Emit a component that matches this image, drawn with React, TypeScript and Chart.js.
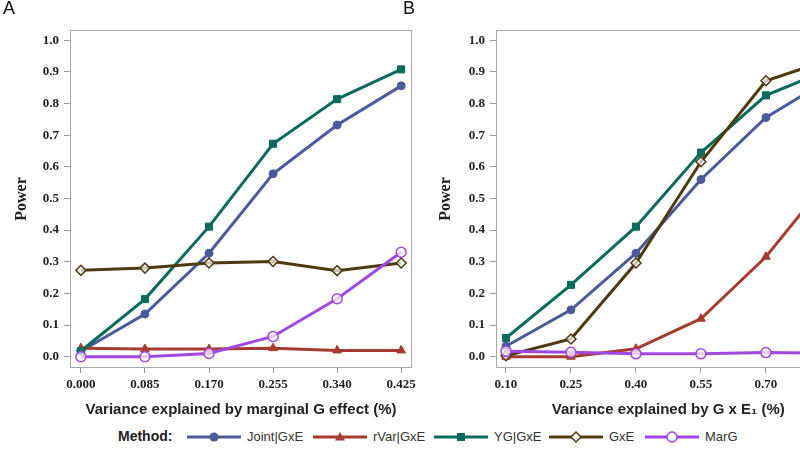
import React, { useEffect, useRef } from "react";
import { Chart, registerables } from "chart.js";

Chart.register(...registerables);

// ---------- data ----------
const methods = ["Joint|GxE", "rVar|GxE", "YG|GxE", "GxE", "MarG"];

const xA = [0, 0.085, 0.17, 0.255, 0.34, 0.425];
const xALabels = ["0.000", "0.085", "0.170", "0.255", "0.340", "0.425"];
const xB = [0.1, 0.25, 0.4, 0.55, 0.7, 0.85];
const xBLabels = ["0.10", "0.25", "0.40", "0.55", "0.70", "0.85"];
const yTicks = [0, 0.1, 0.2, 0.3, 0.4, 0.5, 0.6, 0.7, 0.8, 0.9, 1.0];
const yTickLabels = ["0.0", "0.1", "0.2", "0.3", "0.4", "0.5", "0.6", "0.7", "0.8", "0.9", "1.0"];

const jointA = [0.017, 0.135, 0.327, 0.578, 0.732, 0.856];
const rvarA = [0.027, 0.024, 0.024, 0.027, 0.02, 0.02];
const ygA = [0.018, 0.182, 0.411, 0.673, 0.814, 0.908];
const gxeA = [0.273, 0.28, 0.296, 0.301, 0.272, 0.296];
const margA = [0.0, 0.0, 0.01, 0.064, 0.183, 0.33];

const jointB = [0.033, 0.148, 0.327, 0.56, 0.756, 0.88];
const rvarB = [0.0, 0.0, 0.025, 0.12, 0.316, 0.57];
const ygB = [0.059, 0.227, 0.411, 0.645, 0.826, 0.91];
const gxeB = [0.003, 0.056, 0.296, 0.616, 0.872, 0.94];
const margB = [0.017, 0.014, 0.009, 0.009, 0.013, 0.011];

const titleA = "Variance explained by marginal G effect (%)";
const titleB = "Variance explained by G x E\u2081 (%)";

// ---------- styles ----------
const COLORS = ["#4B5A98", "#A63C30", "#0B6A5C", "#4E3A10", "#A048E0"];
const STYLES = [
  { pointStyle: "circle", radius: 4, fill: true },
  { pointStyle: "triangle", radius: 5, fill: true },
  { pointStyle: "rect", radius: 5, fill: true },
  { pointStyle: "rectRot", radius: 5, fill: false },
  { pointStyle: "circle", radius: 5, fill: false },
];

const serifBold = { family: "'Liberation Serif', 'Times New Roman', serif", size: 13, weight: "bold" as const };
const serifBoldTitle = { family: "'Liberation Serif', 'Times New Roman', serif", size: 16, weight: "bold" as const };
const sansBold = { family: "'Liberation Sans', Arial, sans-serif", size: 15, weight: "bold" as const };

const framePlugin = {
  id: "frame",
  beforeDatasetsDraw(chart: any) {
    const { ctx, chartArea: a } = chart;
    ctx.save();
    ctx.strokeStyle = "#a8a8a8";
    ctx.lineWidth = 1;
    ctx.strokeRect(a.left + 0.5, a.top + 0.5, a.right - a.left - 1, a.bottom - a.top - 1);
    ctx.restore();
  },
};

function closestLabel(v: number, vals: number[], labels: string[]) {
  let best = -1;
  let bd = Infinity;
  vals.forEach((t, i) => {
    const d = Math.abs(t - v);
    if (d < bd) {
      bd = d;
      best = i;
    }
  });
  return bd < 1e-6 ? labels[best] : "";
}

type PanelCfg = {
  xs: number[];
  xLabels: string[];
  series: number[][];
  xMin: number;
  xMax: number;
  xTitle: string;
  yAxisWidth: number;
  yTitlePad: number;
};

function makeChart(canvas: HTMLCanvasElement, cfg: PanelCfg) {
  const datasets = cfg.series.map((vals, i) => ({
    label: methods[i],
    data: cfg.xs.map((x, j) => ({ x, y: vals[j] })),
    borderColor: COLORS[i],
    backgroundColor: COLORS[i],
    borderWidth: 3,
    pointStyle: STYLES[i].pointStyle as any,
    pointRadius: STYLES[i].radius,
    pointBorderWidth: STYLES[i].fill ? 1 : 1.5,
    pointBorderColor: COLORS[i],
    pointBackgroundColor: STYLES[i].fill ? COLORS[i] : "rgba(255,255,255,0.7)",
    order: 5 - i,
    tension: 0,
  }));

  return new Chart(canvas, {
    type: "line",
    data: { datasets },
    plugins: [framePlugin],
    options: {
      animation: false,
      responsive: false,
      devicePixelRatio: 1,
      layout: { padding: { top: 30, right: 5, left: 0, bottom: 0 } },
      plugins: { legend: { display: false }, tooltip: { enabled: false } },
      scales: {
        x: {
          type: "linear",
          min: cfg.xMin,
          max: cfg.xMax,
          afterBuildTicks: (s: any) => {
            s.ticks = cfg.xs.map((v) => ({ value: v }));
          },
          afterFit: (s: any) => {
            s.height = 52;
          },
          ticks: {
            autoSkip: false,
            maxRotation: 0,
            padding: 4,
            color: "#222",
            font: serifBold,
            callback: (v: any) => closestLabel(Number(v), cfg.xs, cfg.xLabels),
          },
          grid: { drawOnChartArea: false, drawTicks: true, tickLength: 5, color: "#999" },
          border: { display: false },
          title: {
            display: true,
            text: cfg.xTitle,
            color: "#222",
            font: sansBold,
            padding: { top: 0, bottom: 1 },
          },
        },
        y: {
          type: "linear",
          min: -0.0357,
          max: 1.0325,
          afterBuildTicks: (s: any) => {
            s.ticks = yTicks.map((v) => ({ value: v }));
          },
          afterFit: (s: any) => {
            s.width = cfg.yAxisWidth;
          },
          ticks: {
            padding: 5,
            color: "#222",
            font: serifBold,
            callback: (v: any) => closestLabel(Number(v), yTicks, yTickLabels),
          },
          grid: { drawOnChartArea: false, drawTicks: true, tickLength: 6, color: "#999" },
          border: { display: false },
          title: {
            display: true,
            text: "Power",
            color: "#222",
            font: serifBoldTitle,
            padding: { top: cfg.yTitlePad, bottom: 0 },
          },
        },
      },
    } as any,
  });
}

function Marker({ i }: { i: number }) {
  const c = COLORS[i];
  const cx = 27;
  const cy = 7;
  let m: any = null;
  if (i === 0) m = <circle cx={cx} cy={cy} r={4.5} fill={c} />;
  if (i === 1) m = <polygon points={`${cx},${cy - 5} ${cx + 5},${cy + 3.5} ${cx - 5},${cy + 3.5}`} fill={c} />;
  if (i === 2) m = <rect x={cx - 4} y={cy - 4} width={8} height={8} fill={c} />;
  if (i === 3)
    m = (
      <polygon
        points={`${cx},${cy - 5} ${cx + 5},${cy} ${cx},${cy + 5} ${cx - 5},${cy}`}
        fill="#fff"
        stroke={c}
        strokeWidth={1.5}
      />
    );
  if (i === 4) m = <circle cx={cx} cy={cy} r={5} fill="#fff" stroke={c} strokeWidth={1.5} />;
  return (
    <svg width={54} height={14} style={{ position: "absolute", left: 0, top: 0 }}>
      <line x1={0} y1={cy} x2={54} y2={cy} stroke={c} strokeWidth={3} />
      {m}
    </svg>
  );
}

const legendLeft = [187, 313, 434, 549, 645];

export default function App() {
  const refA = useRef<HTMLCanvasElement>(null);
  const refB = useRef<HTMLCanvasElement>(null);

  useEffect(() => {
    const a = makeChart(refA.current!, {
      xs: xA,
      xLabels: xALabels,
      series: [jointA, rvarA, ygA, gxeA, margA],
      xMin: -0.01447,
      xMax: 0.4395,
      xTitle: titleA,
      yAxisWidth: 70,
      yTitlePad: 12,
    });
    const b = makeChart(refB.current!, {
      xs: xB,
      xLabels: xBLabels,
      series: [jointB, rvarB, ygB, gxeB, margB],
      xMin: 0.077,
      xMax: 0.872,
      xTitle: titleB,
      yAxisWidth: 76,
      yTitlePad: 16,
    });
    return () => {
      a.destroy();
      b.destroy();
    };
  }, []);

  return (
    <div
      style={{
        position: "fixed",
        left: 0,
        top: 0,
        width: 800,
        height: 453,
        overflow: "hidden",
        background: "#fff",
      }}
    >
      <canvas ref={refA} width={420} height={420} style={{ position: "absolute", left: 0, top: 0 }} />
      <canvas ref={refB} width={427} height={420} style={{ position: "absolute", left: 420, top: 0 }} />
      <div
        style={{
          position: "absolute",
          left: 3,
          top: -2,
          font: "18px 'Liberation Sans', Arial, sans-serif",
          color: "#111",
        }}
      >
        A
      </div>
      <div
        style={{
          position: "absolute",
          left: 403,
          top: -2,
          font: "18px 'Liberation Sans', Arial, sans-serif",
          color: "#111",
        }}
      >
        B
      </div>
      <div
        style={{
          position: "absolute",
          left: 118,
          top: 428,
          font: "bold 14px 'Liberation Sans', Arial, sans-serif",
          color: "#222",
          lineHeight: "17px",
        }}
      >
        Method:
      </div>
      {methods.map((name, i) => (
        <div key={name} style={{ position: "absolute", left: legendLeft[i], top: 430, height: 14 }}>
          <Marker i={i} />
          <span
            style={{
              position: "absolute",
              left: 60,
              top: -1,
              whiteSpace: "nowrap",
              font: "13px 'Liberation Sans', Arial, sans-serif",
              color: "#333",
              lineHeight: "16px",
            }}
          >
            {name}
          </span>
        </div>
      ))}
    </div>
  );
}
